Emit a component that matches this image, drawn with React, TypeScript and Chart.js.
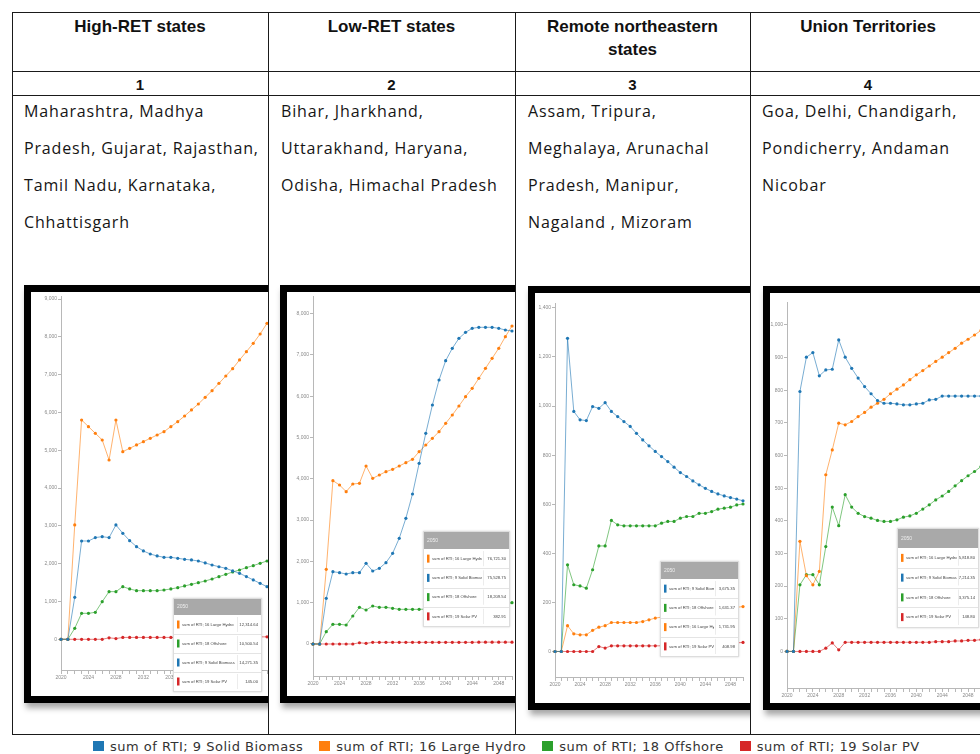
import React, { useEffect, useRef } from "react";
import { Chart, registerables } from "chart.js";

Chart.register(...registerables);

// ---------- data ----------
const YEARS = [
  "2020", "2021", "2022", "2023", "2024", "2025", "2026", "2027", "2028", "2029", "2030",
  "2031", "2032", "2033", "2034", "2035", "2036", "2037", "2038", "2039", "2040",
  "2041", "2042", "2043", "2044", "2045", "2046", "2047", "2048", "2049", "2050",
];

const SERIES_NAMES = [
  "sum of RTI; 9 Solid Biomass",
  "sum of RTI; 16 Large Hydro",
  "sum of RTI; 18 Offshore",
  "sum of RTI; 19 Solar PV",
];

const GROUP_TITLES = ["High-RET states", "Low-RET states", "Remote northeastern|states", "Union Territories"];
const GROUP_NUMBERS = ["1", "2", "3", "4"];
const GROUP_STATES = [
  ["Maharashtra, Madhya", "Pradesh, Gujarat, Rajasthan,", "Tamil Nadu, Karnataka,", "Chhattisgarh"],
  ["Bihar, Jharkhand,", "Uttarakhand, Haryana,", "Odisha, Himachal Pradesh"],
  ["Assam, Tripura,", "Meghalaya, Arunachal", "Pradesh, Manipur,", "Nagaland , Mizoram"],
  ["Goa, Delhi, Chandigarh,", "Pondicherry, Andaman", "Nicobar"],
];

// High-RET states
const HIGH_BIOMASS = [0, 0, 1111, 2601, 2601, 2690, 2716, 2690, 3025, 2804, 2610, 2451, 2337, 2257, 2205, 2169, 2169, 2143, 2116, 2099, 2072, 2020, 1966, 1920, 1878, 1810, 1746, 1660, 1570, 1480, 1393];
const HIGH_HYDRO = [0, 0, 3025, 5802, 5626, 5450, 5273, 4744, 5802, 4965, 5053, 5141, 5229, 5317, 5405, 5494, 5626, 5758, 5908, 6067, 6225, 6402, 6578, 6772, 6966, 7160, 7390, 7610, 7830, 8077, 8360];
const HIGH_OFFSHORE = [0, 0, 291, 688, 688, 714, 996, 1261, 1261, 1393, 1332, 1287, 1287, 1287, 1287, 1305, 1332, 1367, 1411, 1455, 1499, 1543, 1596, 1658, 1719, 1781, 1834, 1896, 1949, 2011, 2072];
const HIGH_SOLAR = [0, 0, 0, 0, 0, 0, 0, 40, 20, 50, 50, 50, 50, 50, 50, 50, 50, 50, 50, 50, 55, 55, 55, 55, 60, 60, 60, 60, 60, 65, 65];
const HIGH_Y_TICKS = [0, 1000, 2000, 3000, 4000, 5000, 6000, 7000, 8000, 9000];
const HIGH_BOX_ORDER = [1, 2, 0, 3];
const HIGH_BOX_VALUES = ["12,314.64", "10,500.54", "14,271.35", "145.00"];

// Low-RET states
const LOW_BIOMASS = [0, 0, 1106, 1751, 1727, 1695, 1727, 1727, 1953, 1767, 1832, 1969, 2195, 2559, 3043, 3632, 4374, 5101, 5787, 6392, 6860, 7159, 7401, 7546, 7643, 7668, 7668, 7668, 7643, 7603, 7579];
const LOW_HYDRO = [0, 0, 1808, 3955, 3850, 3689, 3874, 3890, 4310, 4011, 4092, 4173, 4229, 4310, 4390, 4471, 4657, 4818, 4980, 5141, 5343, 5545, 5763, 5989, 6190, 6432, 6675, 6917, 7159, 7441, 7700];
const LOW_OFFSHORE = [0, 0, 299, 476, 476, 460, 678, 888, 823, 920, 888, 888, 864, 839, 839, 839, 839, 845, 850, 855, 860, 870, 880, 890, 900, 910, 920, 935, 950, 970, 1000];
const LOW_SOLAR = [0, 0, 0, 0, 0, 0, 0, 30, 15, 40, 40, 40, 40, 40, 40, 40, 40, 40, 40, 40, 40, 40, 40, 40, 40, 45, 45, 45, 45, 45, 45];
const LOW_Y_TICKS = [0, 1000, 2000, 3000, 4000, 5000, 6000, 7000, 8000];
const LOW_BOX_ORDER = [1, 0, 2, 3];
const LOW_BOX_VALUES = ["76,721.30", "75,528.75", "18,209.54", "382.91"];

// Remote northeastern states
const NE_BIOMASS = [0, 0, 1276, 978, 944, 941, 998, 991, 1014, 978, 957, 937, 917, 889, 862, 838, 815, 794, 774, 751, 729, 713, 695, 679, 665, 652, 642, 634, 627, 621, 614];
const NE_HYDRO = [0, 0, 105, 72, 68, 68, 86, 99, 105, 118, 118, 118, 118, 118, 122, 129, 136, 140, 143, 146, 150, 153, 157, 160, 163, 166, 170, 173, 176, 180, 183];
const NE_OFFSHORE = [0, 0, 353, 272, 267, 258, 333, 430, 430, 534, 516, 512, 512, 512, 512, 512, 512, 523, 530, 530, 543, 550, 550, 563, 563, 570, 580, 584, 588, 597, 601];
const NE_SOLAR = [0, 0, 0, 0, 0, 0, 0, 20, 14, 23, 23, 23, 23, 23, 23, 23, 23, 23, 25, 25, 25, 27, 27, 27, 29, 29, 30, 32, 33, 35, 37];
const NE_Y_TICKS = [0, 200, 400, 600, 800, 1000, 1200, 1400];
const NE_BOX_ORDER = [0, 2, 1, 3];
const NE_BOX_VALUES = ["3,675.35", "1,631.37", "1,731.95", "408.98"];

// Union Territories
const UT_BIOMASS = [0, 0, 796, 901, 915, 844, 862, 864, 954, 901, 867, 837, 811, 789, 768, 760, 760, 758, 755, 755, 758, 760, 770, 772, 782, 782, 782, 782, 782, 782, 782];
const UT_HYDRO = [0, 0, 337, 232, 204, 245, 541, 617, 699, 694, 704, 719, 732, 748, 760, 772, 789, 803, 816, 832, 847, 860, 874, 888, 901, 915, 928, 944, 956, 969, 983];
const UT_OFFSHORE = [0, 0, 204, 235, 235, 204, 321, 442, 385, 480, 442, 423, 413, 408, 401, 398, 398, 403, 411, 415, 423, 436, 449, 464, 476, 490, 507, 523, 538, 551, 566];
const UT_SOLAR = [0, 0, 0, 0, 0, 0, 10, 26, 5, 28, 28, 28, 28, 28, 28, 28, 28, 28, 28, 28, 28, 28, 28, 30, 30, 30, 32, 32, 34, 34, 36];
const UT_Y_TICKS = [0, 100, 200, 300, 400, 500, 600, 700, 800, 900, 1000];
const UT_BOX_ORDER = [1, 0, 2, 3];
const UT_BOX_VALUES = ["5,818.80", "7,214.35", "3,375.14", "148.80"];

const BOX_TITLE = "2050";

// ---------- styles ----------
const COLORS = ["#1f77b4", "#ff7f0e", "#2ca02c", "#d62728"];
const LINE_COLORS = ["rgba(31,119,180,0.6)", "rgba(255,127,14,0.6)", "rgba(44,160,44,0.6)", "rgba(214,39,40,0.6)"];

type Box = { x: number; y: number; w: number; h: number; head: number; sep: number };
type ChartSpec = {
  series: number[][];
  yTicks: number[];
  min: number;
  max: number;
  boxOrder: number[];
  boxValues: string[];
  frameX: number;
  frameY: number;
  w: number;
  h: number;
  yW: number;
  xH: number;
  padTop: number;
  padRight: number;
  box: Box;
};

const SPECS: ChartSpec[] = [
  {
    series: [HIGH_BIOMASS, HIGH_HYDRO, HIGH_OFFSHORE, HIGH_SOLAR],
    yTicks: HIGH_Y_TICKS, min: -812, max: 9082,
    boxOrder: HIGH_BOX_ORDER, boxValues: HIGH_BOX_VALUES,
    frameX: 24, frameY: 285, w: 250, h: 404, yW: 30, xH: 26, padTop: 4, padRight: 14,
    box: { x: 142, y: 306, w: 89, h: 94, head: 16, sep: 64 },
  },
  {
    series: [LOW_BIOMASS, LOW_HYDRO, LOW_OFFSHORE, LOW_SOLAR],
    yTicks: LOW_Y_TICKS, min: -775, max: 8426,
    boxOrder: LOW_BOX_ORDER, boxValues: LOW_BOX_VALUES,
    frameX: 280, frameY: 285, w: 240, h: 404, yW: 26, xH: 20, padTop: 4, padRight: 15,
    box: { x: 136, y: 239, w: 87, h: 96, head: 17, sep: 60 },
  },
  {
    series: [NE_BIOMASS, NE_HYDRO, NE_OFFSHORE, NE_SOLAR],
    yTicks: NE_Y_TICKS, min: -104, max: 1420,
    boxOrder: NE_BOX_ORDER, boxValues: NE_BOX_VALUES,
    frameX: 528, frameY: 286, w: 225, h: 410, yW: 20, xH: 26, padTop: 10, padRight: 17,
    box: { x: 125, y: 268, w: 79, h: 96, head: 17, sep: 55 },
  },
  {
    series: [UT_BIOMASS, UT_HYDRO, UT_OFFSHORE, UT_SOLAR],
    yTicks: UT_Y_TICKS, min: -112, max: 1070,
    boxOrder: UT_BOX_ORDER, boxValues: UT_BOX_VALUES,
    frameX: 763, frameY: 286, w: 225, h: 410, yW: 17, xH: 15, padTop: 9, padRight: 14,
    box: { x: 127, y: 235, w: 82, h: 100, head: 19, sep: 61 },
  },
];

const CELLS = [
  { x: 13, w: 255 },
  { x: 269, w: 246 },
  { x: 516, w: 234 },
  { x: 751, w: 240 },
];
const COL_LINES = [12, 268, 515, 750];
const CENTERS = [140, 391.5, 632.5, 868];
const TEXT_LEFT = [24, 281, 528, 762];

function drawBox(ctx: CanvasRenderingContext2D, b: Box, order: number[], values: string[]) {
  ctx.save();
  ctx.shadowColor = "rgba(0,0,0,0.18)";
  ctx.shadowBlur = 2;
  ctx.fillStyle = "#ffffff";
  ctx.fillRect(b.x, b.y, b.w, b.h);
  ctx.restore();
  ctx.save();
  ctx.strokeStyle = "#dddddd";
  ctx.lineWidth = 1;
  ctx.strokeRect(b.x + 0.5, b.y + 0.5, b.w - 1, b.h - 1);
  ctx.fillStyle = "#a9a9a9";
  ctx.fillRect(b.x + 1, b.y + 1, b.w - 2, b.head);
  ctx.textBaseline = "middle";
  ctx.font = '5px "Liberation Sans", sans-serif';
  ctx.fillStyle = "#eeeeee";
  ctx.fillText(BOX_TITLE, b.x + 4, b.y + 1 + b.head / 2);
  const top = b.y + 1 + b.head;
  const rh = (b.h - b.head - 2) / 4;
  ctx.font = '4.2px "Liberation Sans", sans-serif';
  order.forEach((si, r) => {
    const y0 = top + r * rh;
    const cy = y0 + rh / 2;
    if (r < 3) {
      ctx.strokeStyle = "#e4e4e4";
      ctx.beginPath();
      ctx.moveTo(b.x + 1, Math.round(y0 + rh) + 0.5);
      ctx.lineTo(b.x + b.w - 1, Math.round(y0 + rh) + 0.5);
      ctx.stroke();
    }
    ctx.strokeStyle = "#ececec";
    ctx.beginPath();
    ctx.moveTo(Math.round(b.x + b.sep) + 0.5, y0 + 2);
    ctx.lineTo(Math.round(b.x + b.sep) + 0.5, y0 + rh - 2);
    ctx.stroke();
    ctx.fillStyle = COLORS[si];
    ctx.fillRect(b.x + 4, cy - 4, 2.5, 8);
    ctx.save();
    ctx.beginPath();
    ctx.rect(b.x + 8, y0, b.sep - 9, rh);
    ctx.clip();
    ctx.fillStyle = "#444444";
    ctx.textAlign = "left";
    ctx.fillText(SERIES_NAMES[si], b.x + 9, cy);
    ctx.restore();
    ctx.fillStyle = "#444444";
    ctx.textAlign = "right";
    ctx.fillText(values[r], b.x + b.w - 4, cy);
  });
  ctx.restore();
}

function MiniChart({ spec }: { spec: ChartSpec }) {
  const ref = useRef<HTMLCanvasElement>(null);
  useEffect(() => {
    const boxPlugin = {
      id: "rtiBox",
      afterDraw(chart: any) {
        drawBox(chart.ctx, spec.box, spec.boxOrder, spec.boxValues);
      },
    };
    const chart = new Chart(ref.current as HTMLCanvasElement, {
      type: "line",
      data: {
        labels: YEARS,
        datasets: spec.series.map((d, i) => ({
          label: SERIES_NAMES[i],
          data: d,
          borderColor: LINE_COLORS[i],
          backgroundColor: COLORS[i],
          pointBackgroundColor: COLORS[i],
          pointBorderColor: COLORS[i],
          pointRadius: 1.6,
          pointBorderWidth: 0,
          borderWidth: 1,
          tension: 0,
          fill: false,
        })),
      },
      options: {
        animation: false,
        responsive: false,
        maintainAspectRatio: false,
        layout: { padding: { top: spec.padTop, right: spec.padRight, left: 0, bottom: 0 } },
        plugins: { legend: { display: false }, tooltip: { enabled: false } },
        scales: {
          x: {
            type: "category",
            offset: false,
            grid: { drawOnChartArea: false, tickLength: 4, color: "#b8b8b8" },
            border: { color: "#b8b8b8" },
            ticks: {
              autoSkip: false,
              maxRotation: 0,
              minRotation: 0,
              padding: 1,
              color: "#8a8a8a",
              font: { size: 5, family: "Liberation Sans" },
              callback: (_v: any, i: number) => (i % 4 === 0 ? YEARS[i] : ""),
            },
            afterFit: (s: any) => {
              s.height = spec.xH;
            },
          },
          y: {
            min: spec.min,
            max: spec.max,
            afterBuildTicks: (s: any) => {
              s.ticks = spec.yTicks.map((v) => ({ value: v }));
            },
            grid: { drawOnChartArea: false, tickLength: 3, color: "#b8b8b8" },
            border: { color: "#b8b8b8" },
            ticks: {
              padding: 1,
              color: "#8a8a8a",
              font: { size: 5, family: "Liberation Sans" },
              callback: (v: any) => Number(v).toLocaleString("en-US"),
            },
            afterFit: (s: any) => {
              s.width = spec.yW;
            },
          },
        },
      },
      plugins: [boxPlugin],
    } as any);
    return () => chart.destroy();
  }, [spec]);
  return (
    <canvas
      ref={ref}
      width={spec.w}
      height={spec.h}
      style={{ display: "block", width: spec.w, height: spec.h, filter: "blur(0.3px)" }}
    />
  );
}

const hLine = (y: number): React.CSSProperties => ({ position: "absolute", left: 12, top: y, width: 980, height: 1, background: "#1a1a1a" });
const vLine = (x: number): React.CSSProperties => ({ position: "absolute", left: x, top: 12, width: 1, height: 723, background: "#1a1a1a" });

export default function App() {
  return (
    <div style={{ position: "absolute", left: 0, top: 0, width: 980, height: 754, overflow: "hidden", background: "#fff" }}>
      {/* table lines */}
      <div style={hLine(12)} />
      <div style={hLine(71)} />
      <div style={hLine(95)} />
      <div style={hLine(734)} />
      {COL_LINES.map((x) => (
        <div key={x} style={vLine(x)} />
      ))}

      {/* header titles */}
      {GROUP_TITLES.map((t, i) => (
        <div
          key={t}
          style={{
            position: "absolute",
            left: CENTERS[i] - 120,
            width: 240,
            top: 15,
            textAlign: "center",
            font: 'bold 17px "Liberation Sans", Arial, sans-serif',
            lineHeight: "23px",
            color: "#111",
          }}
        >
          {t.split("|").map((p) => (
            <div key={p}>{p}</div>
          ))}
        </div>
      ))}

      {/* numbers */}
      {GROUP_NUMBERS.map((n, i) => (
        <div
          key={n}
          style={{
            position: "absolute",
            left: CENTERS[i] - 20,
            width: 40,
            top: 75,
            textAlign: "center",
            font: 'bold 15px "Liberation Sans", Arial, sans-serif',
            lineHeight: "20px",
            color: "#111",
          }}
        >
          {n}
        </div>
      ))}

      {/* state lists */}
      {GROUP_STATES.map((lines, i) => (
        <div
          key={i}
          style={{
            position: "absolute",
            left: TEXT_LEFT[i],
            top: 92.5,
            whiteSpace: "nowrap",
            font: '16px "Open Sans", sans-serif',
            letterSpacing: "0.85px",
            lineHeight: "37px",
            color: "#151515",
          }}
        >
          {lines.map((l) => (
            <div key={l}>{l}</div>
          ))}
        </div>
      ))}

      {/* charts */}
      {SPECS.map((spec, i) => (
        <div
          key={i}
          style={{ position: "absolute", left: CELLS[i].x, top: 96, width: CELLS[i].w, height: 638, overflow: "hidden" }}
        >
          <div
            style={{
              position: "absolute",
              left: spec.frameX - CELLS[i].x,
              top: spec.frameY - 96,
              width: spec.w,
              height: spec.h,
              border: "7px solid #000",
              background: "#fff",
              boxShadow: "2px 5px 6px rgba(0,0,0,0.35)",
            }}
          >
            <MiniChart spec={spec} />
          </div>
        </div>
      ))}

      {/* bottom legend */}
      <div
        style={{
          position: "absolute",
          left: 93,
          top: 739,
          height: 14,
          display: "flex",
          alignItems: "center",
          font: '13px "DejaVu Sans", sans-serif',
          letterSpacing: "0.5px",
          color: "#333",
          whiteSpace: "nowrap",
        }}
      >
        {SERIES_NAMES.map((s, i) => (
          <div key={s} style={{ display: "flex", alignItems: "center", marginRight: 16 }}>
            <span style={{ display: "inline-block", width: 11, height: 10, background: COLORS[i], marginRight: 6 }} />
            <span>{s}</span>
          </div>
        ))}
      </div>
    </div>
  );
}
